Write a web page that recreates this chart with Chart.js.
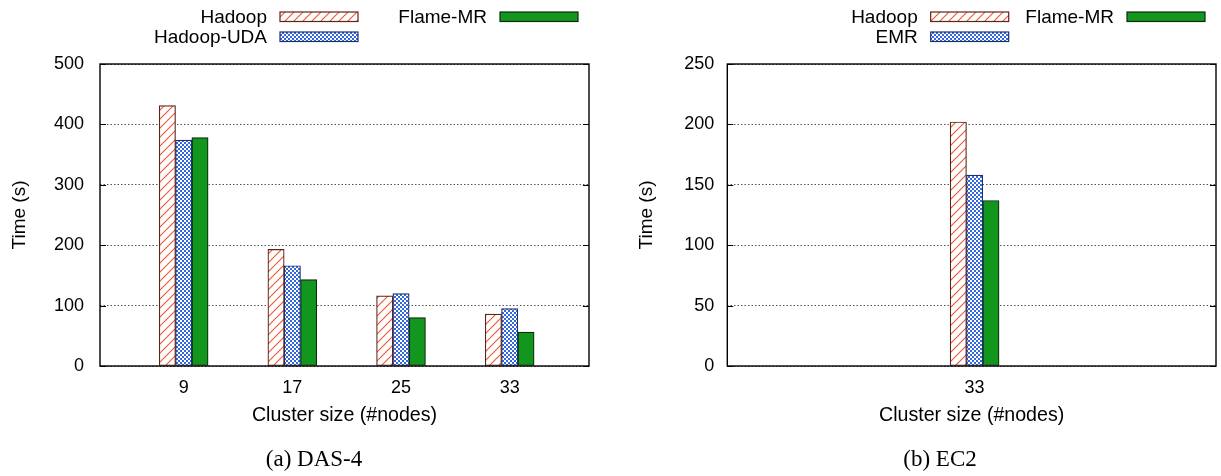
<!DOCTYPE html>
<html>
<head>
<meta charset="utf-8">
<script src="https://cdn.jsdelivr.net/npm/chart.js@4.4.0/dist/chart.umd.min.js"></script>
<style>
  body { margin: 0; background: #fff; width: 1221px; height: 476px; position: relative; overflow: hidden; }
  canvas { position: absolute; top: 0; }
  .caption { position: absolute; top: 445px; width: 300px; text-align: center; font: 23px "Liberation Serif", serif; color: #000; line-height: 28px; }
</style>
</head>
<body>
<canvas id="das" width="610" height="476" style="left:0"></canvas>
<canvas id="ec2" width="611" height="476" style="left:610px"></canvas>
<div class="caption" style="left:164px">(a) DAS-4</div>
<div class="caption" style="left:790px">(b) EC2</div>
<script>
// --- DATA --- //
const dasNodes = ["9", "17", "25", "33"];
const dasHadoop = [431, 193, 116, 86];
const dasUda = [374, 166, 120, 95];
const dasFlame = [378, 143, 80, 56];

const ec2Nodes = ["33"];
const ec2Hadoop = [202];
const ec2Emr = [158];
const ec2Flame = [137];

const FONT = "'Liberation Sans', Arial, sans-serif";

// --- FILL PATTERNS --- //
// red diagonal hatch on white
function hatch(ctx) {
  const c = document.createElement("canvas");
  c.width = 9;
  c.height = 9;
  const g = c.getContext("2d");
  g.fillStyle = "#fff";
  g.fillRect(0, 0, 9, 9);
  g.strokeStyle = "#ee5535";
  g.lineWidth = 1.1;
  g.beginPath();
  g.moveTo(-1, 10); g.lineTo(10, -1);
  g.moveTo(-1, 1); g.lineTo(1, -1);
  g.moveTo(8, 10); g.lineTo(10, 8);
  g.stroke();
  return ctx.createPattern(c, "repeat");
}

// small blue checker
function checker(ctx) {
  const c = document.createElement("canvas");
  c.width = 4;
  c.height = 4;
  const g = c.getContext("2d");
  g.fillStyle = "#3466dc";
  g.fillRect(0, 0, 4, 4);
  g.fillStyle = "#fff";
  g.fillRect(0, 0, 2, 2);
  g.fillRect(2, 2, 2, 2);
  return ctx.createPattern(c, "repeat");
}

// --- FRAME, INNER TICKS AND LEGEND --- //
const frame = {
  id: "frame",
  afterDraw(chart, args, opts) {
    const { ctx, chartArea: a } = chart;
    const y = chart.scales.y;
    ctx.save();
    ctx.strokeStyle = "#000";
    ctx.lineWidth = 1;
    ctx.beginPath();
    y.ticks.forEach((t) => {
      const py = Math.round(y.getPixelForValue(t.value)) + 0.5;
      ctx.moveTo(a.left, py); ctx.lineTo(a.left + 6, py);
      ctx.moveTo(a.right - 6, py); ctx.lineTo(a.right, py);
    });
    ctx.stroke();
    ctx.lineWidth = 1.4;
    ctx.strokeRect(a.left, a.top, a.right - a.left, a.bottom - a.top);

    ctx.font = "19px " + FONT;
    ctx.textAlign = "right";
    ctx.textBaseline = "alphabetic";
    opts.items.forEach((it, i) => {
      const ds = chart.data.datasets[i];
      ctx.fillStyle = "#000";
      ctx.fillText(ds.label, it.x - 13, it.y + 11.3);
      ctx.fillStyle = ds.backgroundColor;
      ctx.fillRect(it.x, it.y, 78, 9.5);
      ctx.strokeStyle = ds.borderColor;
      ctx.lineWidth = 1.2;
      ctx.strokeRect(it.x, it.y, 78, 9.5);
    });
    ctx.restore();
  },
};

function options(labels, xmin, xmax, ymax, step, yWidth, tickPad, titlePad, padRight, legendItems) {
  return {
    responsive: false,
    animation: false,
    layout: { padding: { left: 0, right: padRight, top: 64, bottom: 0 } },
    plugins: {
      legend: { display: false },
      tooltip: { enabled: false },
      frame: { items: legendItems },
    },
    datasets: { bar: { barThickness: 16.3, borderWidth: 1.2, borderSkipped: false } },
    scales: {
      x: {
        type: "linear",
        min: xmin,
        max: xmax,
        offset: false,
        afterBuildTicks: (s) => { s.ticks = labels.map((_, i) => ({ value: i })); },
        afterFit: (s) => { s.height = 110; },
        grid: { display: false, drawTicks: false },
        border: { display: false },
        ticks: {
          autoSkip: false,
          maxRotation: 0,
          padding: 11,
          color: "#000",
          font: { family: FONT, size: 18 },
          callback: (v) => labels[v],
        },
        title: {
          display: true,
          text: "Cluster size (#nodes)",
          color: "#000",
          font: { family: FONT, size: 19.6 },
          padding: { top: 0, bottom: 48.3 },
        },
      },
      y: {
        min: 0,
        max: ymax,
        afterFit: (s) => { s.width = yWidth; },
        grid: { color: "#555", lineWidth: 1, drawTicks: false },
        border: { display: false, dash: [1.5, 2] },
        ticks: {
          stepSize: step,
          padding: tickPad,
          color: "#000",
          font: { family: FONT, size: 18 },
        },
        title: {
          display: true,
          text: "Time (s)",
          color: "#000",
          font: { family: FONT, size: 19 },
          padding: { top: titlePad, bottom: 0 },
        },
      },
    },
  };
}

const ctxDas = document.getElementById("das").getContext("2d");
const ctxEc2 = document.getElementById("ec2").getContext("2d");
const toPoints = (arr) => arr.map((v, i) => ({ x: i, y: v }));

// --- DAS-4 --- //
new Chart(ctxDas, {
  type: "bar",
  data: {
    datasets: [
      { label: "Hadoop", data: toPoints(dasHadoop), backgroundColor: hatch(ctxDas), borderColor: "#5a2418" },
      { label: "Hadoop-UDA", data: toPoints(dasUda), backgroundColor: checker(ctxDas), borderColor: "#1d2f6b" },
      { label: "Flame-MR", data: toPoints(dasFlame), backgroundColor: "#12961e", borderColor: "#0e2a0e" },
    ],
  },
  options: options(dasNodes, -0.77, 3.73, 500, 100, 100, 16, 8.6, 21,
    [{ x: 280, y: 12 }, { x: 280, y: 32 }, { x: 500, y: 12 }]),
  plugins: [frame],
});

// --- EC2 --- //
new Chart(ctxEc2, {
  type: "bar",
  data: {
    datasets: [
      { label: "Hadoop", data: toPoints(ec2Hadoop), backgroundColor: hatch(ctxEc2), borderColor: "#5a2418" },
      { label: "EMR", data: toPoints(ec2Emr), backgroundColor: checker(ctxEc2), borderColor: "#1d2f6b" },
      { label: "Flame-MR", data: toPoints(ec2Flame), backgroundColor: "#12961e", borderColor: "#0e2a0e" },
    ],
  },
  options: options(ec2Nodes, -1, 0.976, 250, 50, 117.3, 13, 25.3, 5,
    [{ x: 320.7, y: 12 }, { x: 320.7, y: 32 }, { x: 517, y: 12 }]),
  plugins: [frame],
});
</script>
</body>
</html>
